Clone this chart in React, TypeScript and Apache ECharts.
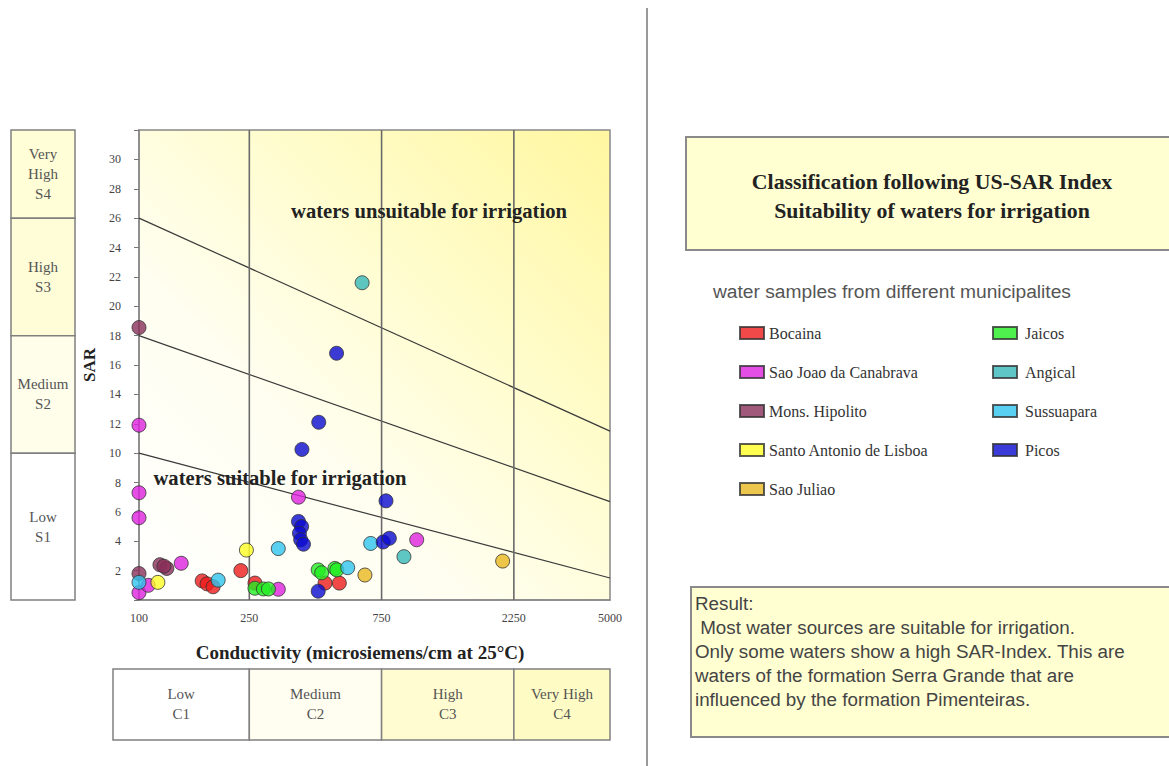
import React, { useEffect, useRef } from "react";
import * as echarts from "echarts";

const SERIF = '"Liberation Serif", "Times New Roman", serif';
const SANS = '"Liberation Sans", Arial, sans-serif';

// ---- data ----
const municipalities = [
  "Bocaina",
  "Sao Joao da Canabrava",
  "Mons. Hipolito",
  "Santo Antonio de Lisboa",
  "Sao Juliao",
  "Jaicos",
  "Angical",
  "Sussuapara",
  "Picos",
];
const municipalityColors = [
  "#ee1c1c",
  "#dd22dd",
  "#8a2f5a",
  "#ffff26",
  "#e8b820",
  "#22ee22",
  "#36b8b8",
  "#30c4ee",
  "#0a0ad0",
];

// [conductivity (µS/cm), SAR]
const bocaina = [[169, 1.3], [176, 1.1], [185, 0.9], [233, 2.0], [262, 1.15], [469, 1.15], [528, 1.15]];
const saoJoao = [[100, 11.9], [100, 7.3], [100, 5.6], [100, 0.5], [108, 1.0], [142, 2.5], [318, 0.73], [376, 7.0], [1004, 4.1]];
const monsHipolito = [[100, 18.55], [100, 1.8], [119, 2.4], [126, 2.15], [123, 2.3]];
const santoAntonio = [[117, 1.2], [244, 3.4]];
const saoJuliao = [[653, 1.7], [2050, 2.65]];
const jaicos = [[262, 0.8], [281, 0.75], [293, 0.75], [443, 2.05], [456, 1.85], [509, 2.15], [517, 2.05]];
const angical = [[638, 21.6], [903, 2.95]];
const sussuapara = [[100, 1.2], [193, 1.35], [318, 3.5], [566, 2.2], [685, 3.85]];
const picos = [[516, 16.8], [445, 12.1], [387, 10.25], [376, 5.35], [386, 5.0], [379, 4.55], [383, 4.1], [392, 3.8], [443, 0.6], [778, 6.75], [760, 3.95], [800, 4.2]];
const sampleSets = [bocaina, saoJoao, monsHipolito, santoAntonio, saoJuliao, jaicos, angical, sussuapara, picos];

const xTickValues = [100, 250, 750, 2250, 5000];
const ecClassEdges = [100, 250, 750, 2250, 5000];
const ecClassLabels = ["Low\nC1", "Medium\nC2", "High\nC3", "Very High\nC4"];
const ecClassFills = ["#ffffff", "#fffef0", "#fffcd2", "#fffbc4"];
const sarLines = [
  [[100, 26], [5000, 11.5]],
  [[100, 18], [5000, 6.7]],
  [[100, 10], [5000, 1.5]],
];
const sarClassEdges = [32, 26, 18, 10, 0];
const sarClassLabels = ["Very\nHigh\nS4", "High\nS3", "Medium\nS2", "Low\nS1"];
const sarClassFills = ["#fffed6", "#fffcd8", "#fffeea", "#ffffff"];
const resultLines = [
  "Result:",
  " Most water sources are suitable for irrigation.",
  "Only some waters show a high SAR-Index. This are",
  "waters of the formation Serra Grande that are",
  "influenced by the formation Pimenteiras.",
];

export default function App() {
  const ref = useRef<HTMLDivElement>(null);
  useEffect(() => {
    if (!ref.current) return;
    const chart = echarts.init(ref.current, undefined, { renderer: "svg" });

    const lineSeries = sarLines.map((d) => ({
      type: "line",
      data: d,
      symbol: "none",
      silent: true,
      lineStyle: { color: "#3a3a3a", width: 1.2 },
      z: 1,
    }));
    const boundSeries = ecClassEdges.slice(1, 4).map((v) => ({
      type: "line",
      data: [[v, 0], [v, 32]],
      symbol: "none",
      silent: true,
      lineStyle: { color: "#6a6a6a", width: 1.6 },
      z: 1,
    }));
    const scatterSeries = sampleSets.map((d, i) => ({
      type: "scatter",
      name: municipalities[i],
      data: d,
      symbol: "circle",
      symbolSize: 14,
      itemStyle: { color: municipalityColors[i], borderColor: "#333", borderWidth: 1 },
      z: 3,
    }));

    const legendBase = {
      orient: "vertical",
      itemWidth: 24,
      itemHeight: 12,
      itemGap: 23,
      padding: 0,
      icon: "rect",
      selectedMode: false,
    };

    chart.setOption({
      animation: false,
      grid: {
        left: 139,
        top: 130,
        width: 471,
        height: 470,
        show: true,
        borderColor: "#888",
        borderWidth: 1.5,
        backgroundColor: {
          type: "linear",
          x: 0,
          y: 1,
          x2: 1,
          y2: 0,
          colorStops: [
            { offset: 0, color: "#ffffff" },
            { offset: 0.35, color: "#fffef0" },
            { offset: 0.6, color: "#fffdd2" },
            { offset: 1, color: "#fff7a0" },
          ],
        },
      },
      xAxis: {
        type: "log",
        logBase: 10,
        min: 100,
        max: 5000,
        axisLine: { show: true, lineStyle: { color: "#888", width: 1.5 } },
        axisTick: { show: false },
        splitLine: { show: false },
        minorTick: { show: false },
        axisLabel: {
          customValues: xTickValues,
          formatter: (v: number) => String(Math.round(v)),
          fontFamily: SERIF,
          fontSize: 12,
          color: "#444",
          margin: 12,
        },
      },
      yAxis: {
        type: "value",
        min: 0,
        max: 32,
        interval: 2,
        name: "SAR",
        nameLocation: "middle",
        nameGap: 41,
        nameTextStyle: { fontFamily: SERIF, fontSize: 17, fontWeight: "bold", color: "#222" },
        axisLine: { show: true, lineStyle: { color: "#888", width: 1.5 } },
        axisTick: { show: true, length: 5, lineStyle: { color: "#777" } },
        splitLine: { show: false },
        axisLabel: {
          formatter: (v: number) => (v === 0 || v === 32 ? "" : String(v)),
          fontFamily: SERIF,
          fontSize: 12,
          color: "#444",
          margin: 18,
        },
      },
      legend: [
        {
          ...legendBase,
          data: municipalities.slice(0, 5),
          left: 739,
          top: 325,
          textStyle: { fontFamily: SERIF, fontSize: 16, color: "#333" },
        },
        {
          ...legendBase,
          data: municipalities.slice(5),
          left: 992,
          top: 325,
          textStyle: { fontFamily: SERIF, fontSize: 16, color: "#333", padding: [0, 0, 0, 3] },
        },
      ],
      series: [...lineSeries, ...boundSeries, ...scatterSeries],
    });

    const px = (x: number, y: number) => chart.convertToPixel({ gridIndex: 0 }, [x, y]) as number[];
    const graphics: any[] = [];

    // SAR class boxes (left)
    for (let i = 0; i < sarClassLabels.length; i++) {
      const y1 = px(100, sarClassEdges[i])[1];
      const y2 = px(100, sarClassEdges[i + 1])[1];
      graphics.push({
        type: "rect",
        shape: { x: 11, y: y1, width: 64, height: y2 - y1 },
        style: { fill: sarClassFills[i], stroke: "#808080", lineWidth: 1.5 },
      });
      graphics.push({
        type: "text",
        x: 43,
        y: (y1 + y2) / 2,
        style: {
          text: sarClassLabels[i],
          font: `15px ${SERIF}`,
          fill: "#555",
          textAlign: "center",
          textVerticalAlign: "middle",
          lineHeight: 20,
        },
      });
    }
    // EC class boxes (bottom)
    for (let i = 0; i < ecClassLabels.length; i++) {
      const x1 = i === 0 ? px(ecClassEdges[0], 0)[0] - 26 : px(ecClassEdges[i], 0)[0];
      const x2 = px(ecClassEdges[i + 1], 0)[0];
      graphics.push({
        type: "rect",
        shape: { x: x1, y: 669, width: x2 - x1, height: 71 },
        style: { fill: ecClassFills[i], stroke: "#808080", lineWidth: 1.5 },
      });
      graphics.push({
        type: "text",
        x: (x1 + x2) / 2,
        y: 704,
        style: {
          text: ecClassLabels[i],
          font: `15px ${SERIF}`,
          fill: "#555",
          textAlign: "center",
          textVerticalAlign: "middle",
          lineHeight: 20,
        },
      });
    }
    // annotations inside plot
    graphics.push({
      type: "text",
      x: 429,
      y: 211,
      style: {
        text: "waters unsuitable for irrigation",
        font: `bold 20.6px ${SERIF}`,
        fill: "#222",
        textAlign: "center",
        textVerticalAlign: "middle",
      },
      z: 10,
    });
    graphics.push({
      type: "text",
      x: 280,
      y: 478,
      style: {
        text: "waters suitable for irrigation",
        font: `bold 20.6px ${SERIF}`,
        fill: "#222",
        textAlign: "center",
        textVerticalAlign: "middle",
      },
      z: 10,
    });
    graphics.push({
      type: "text",
      x: 360,
      y: 652,
      style: {
        text: "Conductivity (microsiemens/cm at 25°C)",
        font: `bold 19px ${SERIF}`,
        fill: "#222",
        textAlign: "center",
        textVerticalAlign: "middle",
      },
    });
    // right panel
    graphics.push({
      type: "line",
      shape: { x1: 647, y1: 8, x2: 647, y2: 766 },
      style: { stroke: "#999", lineWidth: 2 },
    });
    graphics.push({
      type: "rect",
      shape: { x: 686, y: 137, width: 500, height: 113 },
      style: { fill: "#ffffd2", stroke: "#8a8a8a", lineWidth: 2 },
    });
    graphics.push({
      type: "text",
      x: 932,
      y: 196,
      style: {
        text: "Classification following US-SAR Index\nSuitability of waters for irrigation",
        font: `bold 21.8px ${SERIF}`,
        fill: "#222",
        textAlign: "center",
        textVerticalAlign: "middle",
        lineHeight: 29,
      },
    });
    graphics.push({
      type: "text",
      x: 713,
      y: 291,
      style: {
        text: "water samples from different municipalites",
        font: `19.2px ${SANS}`,
        fill: "#555",
        textAlign: "left",
        textVerticalAlign: "middle",
      },
    });
    graphics.push({
      type: "rect",
      shape: { x: 691, y: 587, width: 500, height: 150 },
      style: { fill: "#ffffd2", stroke: "#8a8a8a", lineWidth: 2 },
    });
    resultLines.forEach((t, i) => {
      graphics.push({
        type: "text",
        x: 695,
        y: 603 + i * 24,
        style: {
          text: t,
          font: `18.8px ${SANS}`,
          fill: "#444",
          textAlign: "left",
          textVerticalAlign: "middle",
        },
      });
    });

    chart.setOption({ graphic: graphics });

    return () => chart.dispose();
  }, []);

  return (
    <div
      ref={ref}
      style={{ position: "absolute", left: 0, top: 0, width: 1169, height: 766, background: "#fff" }}
    />
  );
}
